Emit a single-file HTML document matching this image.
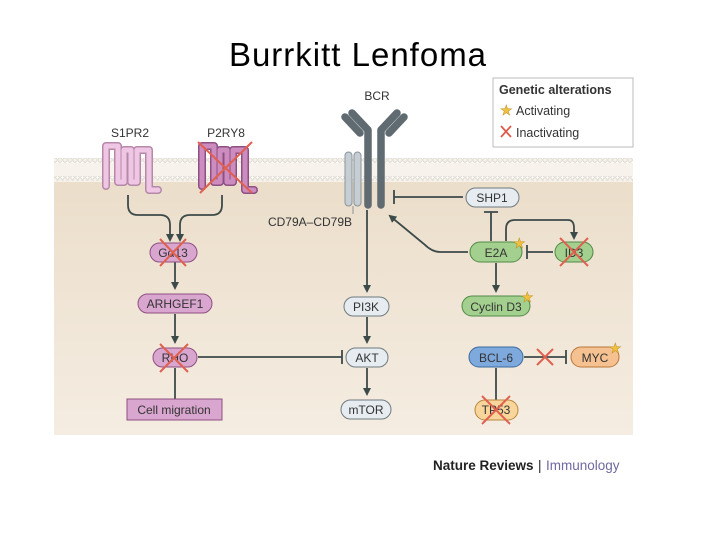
<!DOCTYPE html>
<html><head><meta charset="utf-8"><style>
html,body{margin:0;padding:0;background:#fff;}
svg{display:block;font-family:"Liberation Sans",sans-serif;}
</style></head><body>
<svg width="720" height="540" viewBox="0 0 720 540" xmlns="http://www.w3.org/2000/svg">
<defs>
<linearGradient id="bg" x1="0" y1="0" x2="0" y2="1">
<stop offset="0" stop-color="#eadcc8"/><stop offset="1" stop-color="#f5ede2"/>
</linearGradient>
<pattern id="mem" width="5" height="5" patternUnits="userSpaceOnUse">
<circle cx="2.5" cy="2.5" r="1.7" fill="#fff" stroke="#cfc8bc" stroke-width="0.6"/>
</pattern>
<marker id="ar" markerWidth="8" markerHeight="8" refX="6" refY="4" orient="auto" markerUnits="userSpaceOnUse">
<path d="M0,0 L8,4 L0,8 z" fill="#3d4a4a"/>
</marker>
</defs>
<text x="358" y="66" font-size="33" letter-spacing="1" text-anchor="middle" fill="#000">Burrkitt Lenfoma</text>

<rect x="54" y="158" width="579" height="277" fill="url(#bg)"/>
<rect x="54" y="158" width="579" height="24" fill="#f7f3ec"/>
<rect x="54" y="158" width="579" height="5" fill="url(#mem)"/>
<rect x="54" y="176" width="579" height="5" fill="url(#mem)"/>

<!-- legend -->
<rect x="493" y="78" width="140" height="69" fill="#fff" stroke="#bbb"/>
<text x="499" y="94" font-size="12.5" font-weight="bold" fill="#333">Genetic alterations</text>
<text x="500" y="115" font-size="14" fill="#f0c040" stroke="#c09020" stroke-width="0.5">★</text>
<text x="516" y="115" font-size="12.5" fill="#333">Activating</text>
<path d="M501 126 L511 137 M511 126 L501 137" stroke="#e05a4a" stroke-width="1.8"/>
<text x="516" y="137" font-size="12.5" fill="#333">Inactivating</text>

<!-- GPCRs -->
<text x="130" y="137" font-size="12" text-anchor="middle" fill="#333">S1PR2</text>
<text x="226" y="137" font-size="12" text-anchor="middle" fill="#333">P2RY8</text>
<g fill="none" stroke-linejoin="round" stroke-linecap="round">
<path d="M106 186 V146 H118 V182 H124 V150 H131 V182 H137 V150 H149 V190 H158" stroke="#b48aa8" stroke-width="8"/>
<path d="M106 186 V146 H118 V182 H124 V150 H131 V182 H137 V150 H149 V190 H158" stroke="#efc6e4" stroke-width="5"/>
<path d="M202 186 V146 H214 V182 H220 V150 H227 V182 H233 V150 H245 V190 H254" stroke="#8e4f82" stroke-width="8"/>
<path d="M202 186 V146 H214 V182 H220 V150 H227 V182 H233 V150 H245 V190 H254" stroke="#cc8cc0" stroke-width="5"/>
</g>
<path d="M198 142 L252 193 M252 142 L200 193" stroke="#e06050" stroke-width="2"/>

<!-- BCR -->
<text x="377" y="100" font-size="12" text-anchor="middle" fill="#333">BCR</text>
<g stroke="#5f6b70" stroke-linecap="round" stroke-linejoin="round" fill="none" stroke-width="7.5">
<path d="M368 205 V130 L352 113"/>
<path d="M360 133 L345 117"/>
<path d="M381 205 V130 L397 113"/>
<path d="M389 133 L404 117"/>
</g>
<rect x="345" y="152" width="7" height="54" rx="3.5" fill="#c7ced3" stroke="#8a959b"/>
<rect x="354" y="152" width="7" height="54" rx="3.5" fill="#c7ced3" stroke="#8a959b"/>
<path d="M353 206 V214" stroke="#8a959b"/>
<text x="310" y="226" font-size="12" text-anchor="middle" fill="#333">CD79A–CD79B</text>

<!-- connectors -->
<g stroke="#3d4a4a" stroke-width="1.8" fill="none">
<path d="M128 195 V205 Q128 215 138 215 H160 Q170 215 170 225 V240" marker-end="url(#ar)"/>
<path d="M222 195 V205 Q222 215 212 215 H190 Q180 215 180 225 V240" marker-end="url(#ar)"/>
<path d="M175 262 V288" marker-end="url(#ar)"/>
<path d="M175 314 V342" marker-end="url(#ar)"/>
<path d="M175 368 V403 M168 403 H182"/>
<path d="M198 357 H342 M342 350 V364"/>
<path d="M367 210 V291" marker-end="url(#ar)"/>
<path d="M367 317 V342" marker-end="url(#ar)"/>
<path d="M367 368 V394" marker-end="url(#ar)"/>
<path d="M463 197 H394 M394 190 V204"/>
<path d="M491 241 V212 M484 212 H498"/>
<path d="M468 252 H440 Q432 252 424 244 L390 216" marker-end="url(#ar)"/>
<path d="M506 241 V229 Q506 220 515 220 H568 Q574 220 574 228 V238" marker-end="url(#ar)"/>
<path d="M553 252 H527 M527 245 V259"/>
<path d="M496 263 V291" marker-end="url(#ar)"/>
<path d="M524 357 H566 M566 350 V364"/>
<path d="M496 368 V403 M489 403 H503"/>
</g>

<!-- nodes -->
<g font-size="12" text-anchor="middle" fill="#333" stroke-width="1">
<rect x="150" y="243" width="47" height="19" rx="9.5" fill="#d9a6cf" stroke="#8e4f82"/>
<text x="173" y="257">Gα13</text>
<rect x="138" y="294" width="74" height="19" rx="9.5" fill="#d9a6cf" stroke="#8e4f82"/>
<text x="175" y="308">ARHGEF1</text>
<rect x="153" y="348" width="44" height="19" rx="9.5" fill="#d9a6cf" stroke="#8e4f82"/>
<text x="175" y="362">RHO</text>
<rect x="127" y="399" width="95" height="21" fill="#d9a6cf" stroke="#8e4f82"/>
<text x="174" y="414">Cell migration</text>

<rect x="344" y="297" width="45" height="19" rx="9.5" fill="#e6ecf0" stroke="#6e7a80"/>
<text x="366" y="311">PI3K</text>
<rect x="346" y="348" width="42" height="19" rx="9.5" fill="#e6ecf0" stroke="#6e7a80"/>
<text x="367" y="362">AKT</text>
<rect x="341" y="400" width="50" height="19" rx="9.5" fill="#e6ecf0" stroke="#6e7a80"/>
<text x="366" y="414">mTOR</text>

<rect x="466" y="188" width="53" height="19" rx="9.5" fill="#e6ecf0" stroke="#6e7a80"/>
<text x="492" y="202">SHP1</text>
<rect x="470" y="242" width="52" height="20" rx="10" fill="#a4d08f" stroke="#4f8a45"/>
<text x="496" y="257">E2A</text>
<rect x="555" y="242" width="38" height="20" rx="10" fill="#a4d08f" stroke="#4f8a45"/>
<text x="574" y="257">ID3</text>
<rect x="462" y="296" width="68" height="20" rx="10" fill="#a4d08f" stroke="#4f8a45"/>
<text x="496" y="311">Cyclin D3</text>
<rect x="469" y="347" width="54" height="20" rx="10" fill="#7ea9dc" stroke="#3b6aa0"/>
<text x="496" y="362">BCL-6</text>
<rect x="571" y="347" width="48" height="20" rx="10" fill="#f6c190" stroke="#b8763a"/>
<text x="595" y="362">MYC</text>
<rect x="475" y="400" width="43" height="20" rx="10" fill="#f8d59a" stroke="#b8863a"/>
<text x="496" y="414">TP53</text>
</g>

<!-- crosses -->
<g stroke="#e06050" stroke-width="2">
<path d="M160 239 L186 266 M186 239 L160 266"/>
<path d="M160 344 L188 372 M188 344 L160 372"/>
<path d="M560 238 L588 266 M588 238 L560 266"/>
<path d="M482 396 L510 424 M510 396 L482 424"/>
<path d="M537 349 L553 365 M553 349 L537 365"/>
</g>
<!-- stars -->
<g font-size="14" fill="#f0c040" stroke="#c09020" stroke-width="0.5">
<text x="513" y="248">★</text>
<text x="521" y="302">★</text>
<text x="609" y="353">★</text>
</g>

<text x="433" y="470" font-size="13.5" font-weight="bold" fill="#222">Nature Reviews</text>
<text x="538" y="470" font-size="13.5" fill="#222">|</text>
<text x="546" y="470" font-size="13.5" fill="#6f6aa0">Immunology</text>
</svg>
</body></html>
